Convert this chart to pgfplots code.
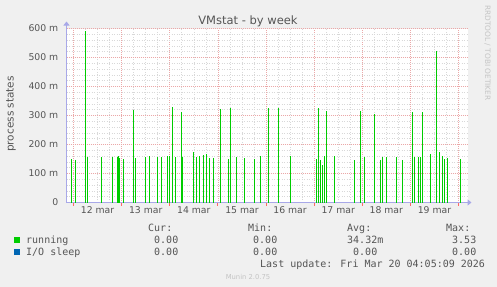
\documentclass[border=0pt]{standalone}
\usepackage{pgfplots}
\usepackage{pgfplotstable}
\pgfplotsset{compat=1.18}
\usepackage{fontspec}
\setmainfont{DejaVu Sans}
\newfontfamily\monofont{DejaVu Sans Mono}
\usetikzlibrary{arrows.meta}
\definecolor{bg}{HTML}{F0F0F0}
\definecolor{txt}{HTML}{555555}
\definecolor{axisblue}{HTML}{A8A8E8}
\definecolor{mgrid}{HTML}{EBA8A8}
\definecolor{ngrid}{HTML}{D8D8D8}
\definecolor{run}{HTML}{00CC00}
\definecolor{iosl}{HTML}{0066B3}
\definecolor{wm}{HTML}{C4C4C4}

% running (process states, in milli units); x = day of March
\pgfplotstableread{
t v
11.958 149
12.042 146
12.249 591
12.291 157
12.582 157
12.810 157
12.914 157
12.935 160
12.956 155
13.039 150
13.247 319
13.288 153
13.496 157
13.579 160
13.745 157
13.829 157
13.953 160
13.995 160
14.057 328
14.119 157
14.244 312
14.265 157
14.494 174
14.556 157
14.618 160
14.701 164
14.764 167
14.826 154
14.909 154
15.055 321
15.221 150
15.262 326
15.387 157
15.553 154
15.761 150
15.886 160
16.052 326
16.260 326
16.509 160
17.049 150
17.091 326
17.132 145
17.174 128
17.216 160
17.257 314
17.423 160
17.839 147
17.964 317
18.047 157
18.255 305
18.379 147
18.421 157
18.504 157
18.712 157
18.836 147
19.044 312
19.086 157
19.169 157
19.210 157
19.252 312
19.418 167
19.543 522
19.605 174
19.668 160
19.709 150
19.771 154
20.042 150
}\running

\begin{document}
\begin{tikzpicture}
\useasboundingbox (0,0) rectangle (497bp,-287bp);
\fill[bg] (0,0) rectangle (497bp,-287bp);
\begin{axis}[
  at={(66.5bp,-202.5bp)}, anchor=south west,
  scale only axis, width=401bp, height=174bp,
  xmin=11.8545, xmax=20.187, ymin=0, ymax=600,
  axis background/.style={fill=white},
  axis x line=bottom, axis y line=left,
  axis line style={draw=axisblue, line width=1bp},
  x axis line style={-{Triangle[length=4bp,width=6bp]}, shorten >=-4bp},
  y axis line style={-{Triangle[length=4bp,width=6bp]}, shorten >=-7bp},
  xtick={12,13,14,15,16,17,18,19,20}, xticklabels={},
  minor x tick num=3,
  extra x ticks={12.5,13.5,14.5,15.5,16.5,17.5,18.5,19.5},
  extra x tick labels={12 mar,13 mar,14 mar,15 mar,16 mar,17 mar,18 mar,19 mar},
  extra x tick style={grid=none, major tick length=0pt, tick style={draw=none}},
  ytick={0,100,200,300,400,500,600},
  yticklabels={0,100 m,200 m,300 m,400 m,500 m,600 m},
  minor y tick num=4,
  grid=both,
  major grid style={draw=mgrid, line width=0.7bp, dash pattern=on 1bp off 1bp},
  minor grid style={draw=ngrid, line width=0.6bp, dash pattern=on 1bp off 1.5bp},
  tick align=outside, major tick length=3bp, minor tick length=0pt,
  xtick style={draw=red!60, line width=0.8bp},
  ytick style={draw=none},
  ticklabel style={font=\fontsize{9.3bp}{11bp}\selectfont, text=txt},
  xticklabel style={anchor=north, inner sep=0pt, yshift=-4bp},
  yticklabel style={anchor=east, inner sep=0pt, xshift=-5bp},
  /pgf/number format/assume math mode=true,
]
\addplot[ycomb, draw=run, line width=1.5bp, mark=none] table[x=t, y=v] {\running};
\end{axis}
% title and labels
\node[anchor=base, inner sep=0, font=\fontsize{11.5bp}{13bp}\selectfont, text=txt] at (248bp,-24bp) {VMstat - by week};
\node[rotate=90, anchor=base, inner sep=0, font=\fontsize{10.5bp}{12bp}\selectfont, text=txt] at (13.5bp,-114bp) {process states};
\node[rotate=-90, anchor=base west, inner sep=0, font=\fontsize{7.4bp}{9bp}\selectfont, text=wm] at (485bp,-5bp) {RRDTOOL / TOBI OETIKER};
% legend
\begin{scope}[every node/.style={anchor=base west, inner sep=0, font=\monofont\fontsize{10bp}{12bp}\selectfont, text=txt}]
\node at (148bp,-231.7bp) {Cur:};
\node at (248bp,-231.7bp) {Min:};
\node at (347bp,-231.7bp) {Avg:};
\node at (446bp,-231.7bp) {Max:};
\fill[run] (14bp,-237bp) rectangle (20bp,-243bp);
\node at (26bp,-243.3bp) {running};
\node at (154bp,-243.3bp) {0.00};
\node at (253bp,-243.3bp) {0.00};
\node at (347bp,-243.3bp) {34.32m};
\node at (452bp,-243.3bp) {3.53};
\fill[iosl] (14bp,-248.5bp) rectangle (20bp,-254.5bp);
\node at (26bp,-255bp) {I/O sleep};
\node at (154bp,-255bp) {0.00};
\node at (253bp,-255bp) {0.00};
\node at (353bp,-255bp) {0.00};
\node at (452bp,-255bp) {0.00};
\node at (260bp,-267.3bp) {Last update: Fri Mar 20 04:05:09 2026};
\end{scope}
\node[anchor=base, inner sep=0, font=\fontsize{6.8bp}{8bp}\selectfont, text=wm] at (248bp,-279bp) {Munin 2.0.75};
\end{tikzpicture}
\end{document}
